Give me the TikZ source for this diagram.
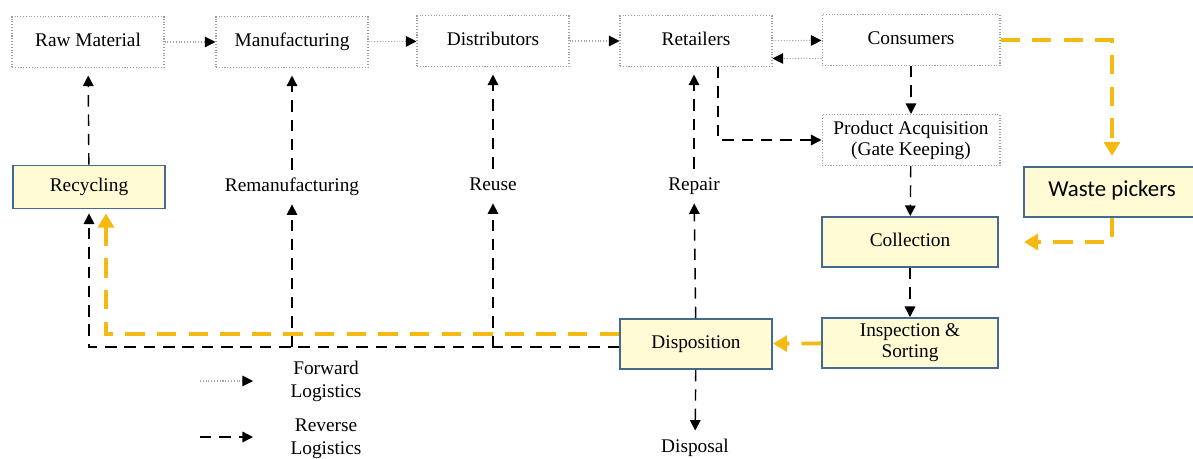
\documentclass[tikz,border=0pt]{standalone}
\usepackage{fontspec}
\setmainfont{Liberation Serif}
\newfontfamily\calfont{Carlito}
\usetikzlibrary{arrows.meta}
\definecolor{yfill}{RGB}{255,251,212}
\definecolor{bbord}{RGB}{70,105,145}
\definecolor{ylw}{RGB}{245,185,20}
\tikzset{
  base/.style={font=\fontsize{11}{13}\selectfont, align=center},
  one/.style={text height=1.55ex, text depth=0.45ex},
  wbox/.style={base, draw=gray!75, densely dotted, line width=0.6pt, minimum width=3.04cm, minimum height=1.02cm, inner sep=1pt},
  ybox/.style={base, draw=bbord, fill=yfill, line width=1.1pt, minimum width=3.04cm, minimum height=1cm, inner sep=1pt},
  lbl/.style={base, one, inner sep=0.18cm},
  tip/.style={-{Triangle[length=6pt,width=6pt,color=black]}},
  fwd/.style={tip, draw=gray!70, densely dotted, line width=0.6pt},
  rev/.style={tip, draw=black, line width=0.8pt, dash pattern=on 6.5pt off 4.5pt},
  yrev/.style={-{Triangle[length=8pt,width=9pt]}, draw=ylw, line width=2.2pt, dash pattern=on 11pt off 7pt},
}
\begin{document}
\begin{tikzpicture}[x=0.02cm,y=-0.02cm]
\useasboundingbox (0,0) rectangle (1193,459);
% top row
\node[wbox, one] (raw) at (88,42) {Raw Material};
\node[wbox, one] (man) at (292,42) {Manufacturing};
\node[wbox, one] (dis) at (493,41) {Distributors};
\node[wbox, one] (ret) at (696,41) {Retailers};
\node[wbox, one, minimum width=3.56cm] (con) at (911,40) {Consumers};
\node[wbox, minimum width=3.56cm] (pa) at (911,140) {Product Acquisition\\[-1pt](Gate Keeping)};
\node[ybox, one, minimum width=3.52cm] (col) at (910,242) {Collection};
\node[ybox, minimum width=3.52cm] (ins) at (910,343) {Inspection \&\\[-1pt]Sorting};
\node[ybox, one] (dsp) at (696,344) {Disposition};
\node[ybox, one, minimum width=3.52cm, font=\calfont\fontsize{13}{15}\selectfont] (wp) at (1112,192) {Waste pickers};
\node[ybox, one, minimum height=0.86cm] (rec) at (89,187) {Recycling};
\node[lbl] (rem) at (292,187) {Remanufacturing};
\node[lbl] (reu) at (493,186) {Reuse};
\node[lbl] (rep) at (694,186) {Repair};
\node[lbl] (dpl) at (695,448) {Disposal};
% forward
\draw[fwd] (raw) -- (man);
\draw[fwd] (man) -- (dis);
\draw[fwd] (dis) -- (ret);
\draw[fwd] (ret) -- (con);
\draw[fwd] ([yshift=-0.37cm]con.west) -- ([yshift=-0.35cm]ret.east);
% reverse
\draw[rev] (con) -- (pa);
\draw[rev] ([xshift=0.44cm]ret.south) |- (pa.west);
\draw[rev] (pa) -- (col);
\draw[rev] (col) -- (ins);
\draw[rev] (dsp) -- (dpl);
\draw[rev] (dsp) -- (rep);
\draw[rev, shorten >=0.15cm] (rep) -- (rep |- ret.south);
\draw[rev, shorten >=0.15cm] (rec) -- (raw);
\draw[rev, shorten >=0.15cm] (rem) -- (man);
\draw[rev, shorten >=0.15cm] (reu) -- (dis);
\draw[rev, shorten >=0.08cm] ([yshift=-0.06cm]dsp.west) -| (rec.south);
\coordinate (b1) at (292,347);
\coordinate (b2) at (493,347);
\draw[rev] (b1) -- (rem);
\draw[rev] (b2) -- (reu);
% yellow
\draw[yrev] (ins) -- (dsp);
\draw[yrev, shorten >=0.08cm] ([yshift=0.2cm]dsp.west) -| ([xshift=0.34cm]rec.south);
\draw[yrev, shorten >=0.2cm] (con.east) -| (wp.north);
\draw[yrev, shorten >=0.5cm] (wp.south) |- (col.east);
% legend
\coordinate (f1) at (200,381);
\coordinate (f2) at (253,381);
\coordinate (r1) at (200,437);
\coordinate (r2) at (253,437);
\draw[fwd] (f1) -- (f2);
\draw[rev] (r1) -- (r2);
\node[base] (lf) at (326,381) {Forward\\Logistics};
\node[base] (lr) at (326,439) {Reverse\\Logistics};
\end{tikzpicture}
\end{document}
